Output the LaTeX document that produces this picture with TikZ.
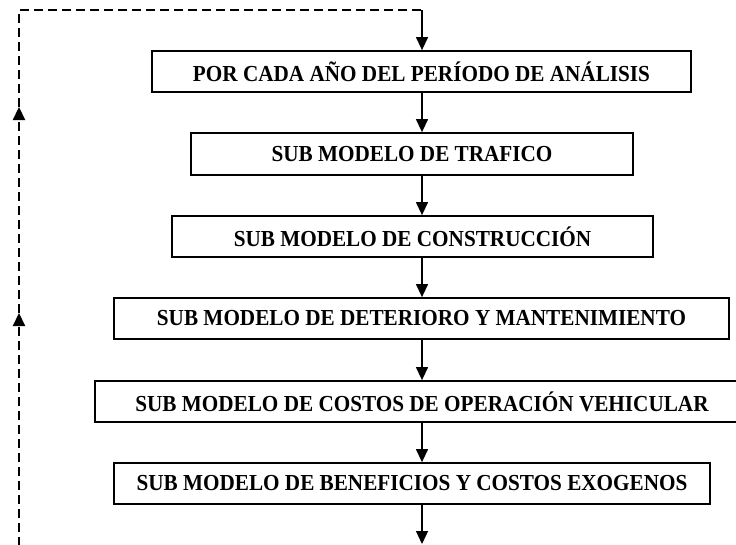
\documentclass[tikz,border=0pt]{standalone}
\usepackage{fontspec}
\setmainfont{Liberation Serif}
\usetikzlibrary{arrows.meta}
\newcommand{\tallbox}[1]{\scalebox{1}[1.08]{#1}}
\begin{document}
\begin{tikzpicture}[x=1pt,y=-1pt,
  stagebox/.style={draw, line width=1.8pt, inner sep=0pt, minimum height=41pt,
    font=\fontsize{21.2}{25}\selectfont\bfseries},
  flow/.style={line width=1.3pt, -{Triangle[width=12pt,length=13pt]}},
  loop/.style={line width=2.2pt, dash pattern=on 9pt off 5pt},
  loopup/.style={loop, -{Triangle[width=12pt,length=13pt]}}]
\useasboundingbox (0,0) rectangle (736,544);
\clip (0,0) rectangle (736,544);
\node[stagebox, minimum width=539pt] (b1) at (421.5,71.5) {\tallbox{POR CADA AÑO DEL PERÍODO DE ANÁLISIS}};
\node[stagebox, minimum width=442pt, minimum height=42pt] (b2) at (412,154) {\tallbox{SUB MODELO DE TRAFICO}};
\node[stagebox, minimum width=481pt] (b3) at (412.5,236.5) {\tallbox{SUB MODELO DE CONSTRUCCIÓN}};
\node[stagebox, minimum width=615pt] (b4) at (421.5,318.5) {\tallbox{SUB MODELO DE DETERIORO Y MANTENIMIENTO}};
\node[stagebox, minimum width=654pt] (b5) at (422,401.5) {\tallbox{SUB MODELO DE COSTOS DE OPERACIÓN VEHICULAR}};
\node[stagebox, minimum width=596pt] (b6) at (412,483.5) {\tallbox{SUB MODELO DE BENEFICIOS Y COSTOS EXOGENOS}};
\coordinate (top) at (422,10);
\coordinate (corner) at (19,10);
\coordinate (bl) at (19,546);
\coordinate (a1) at (19,313);
\coordinate (a2) at (19,107);
\coordinate (out) at (422,544);
\draw[flow] (top) -- (b1.north -| top);
\draw[flow] (b1.south -| top) -- (b2.north -| top);
\draw[flow] (b2.south -| top) -- (b3.north -| top);
\draw[flow] (b3.south -| top) -- (b4.north -| top);
\draw[flow] (b4.south -| top) -- (b5.north -| top);
\draw[flow] (b5.south -| top) -- (b6.north -| top);
\draw[flow] (b6.south -| top) -- (out);
\draw[loopup] (bl) -- (a1);
\draw[loopup] (a1) -- (a2);
\draw[loop] (a2) -- (corner) -- (top);
\end{tikzpicture}
\end{document}
